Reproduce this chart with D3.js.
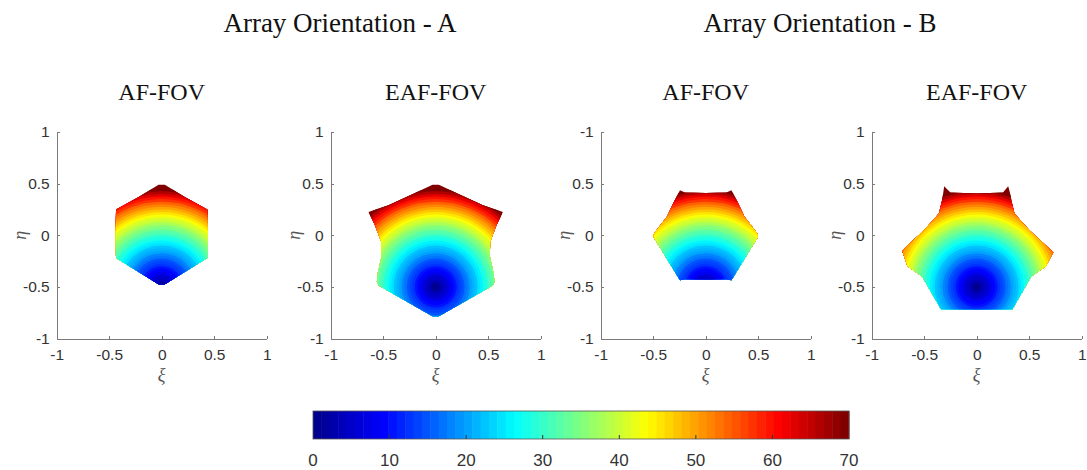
<!DOCTYPE html>
<html>
<style>
    body {
      margin: 0;
      overflow: hidden;
      background: #fff;
    }
    .heading {
      font-family: "Liberation Serif", "Times New Roman", serif;
      fill: #111;
    }
    .axis path, .axis line {
      stroke: #7a7a7a;
      shape-rendering: crispEdges;
    }
    .axis text, .cbar text {
      font-family: "Liberation Sans", Arial, sans-serif;
      fill: #333;
    }
    .varname {
      font-family: "Liberation Serif", "Times New Roman", serif;
      font-style: italic;
      fill: #555;
    }
</style>
<script src="https://cdn.jsdelivr.net/npm/d3@7"></script>
<body>
<svg width="1087" height="470"></svg>
<script>
// ---- data ----
var groupTitles = ["Array Orientation - A", "Array Orientation - B"];
var panelTitles = ["AF-FOV", "EAF-FOV", "AF-FOV", "EAF-FOV"];

var axisTicks = [-1, -0.5, 0, 0.5, 1];
var xTickLabels = ["-1", "-0.5", "0", "0.5", "1"];
var yTickLabels = [
  ["-1", "-0.5", "0", "0.5", "1"],
  ["-1", "-0.5", "0", "0.5", "1"],
  ["-1", "-0.5", "0", "0.5", "-1"],
  ["-1", "-0.5", "0", "0.5", "1"]
];

// field-of-view boundaries in the (xi, eta) plane
var fovA_AF = [[0.03,0.49],[0.22,0.37],[0.435,0.25],[0.44,0.01],[0.435,-0.22],[0.22,-0.355],[0.03,-0.475],
  [-0.03,-0.475],[-0.22,-0.355],[-0.435,-0.22],[-0.44,0.01],[-0.435,0.25],[-0.22,0.37],[-0.03,0.49]];
var fovA_EAF = [[0.03,0.49],[0.3,0.36],[0.45,0.29],[0.64,0.225],[0.58,0.1],[0.52,-0.06],[0.515,-0.2],[0.55,-0.36],
  [0.56,-0.45],[0.54,-0.49],[0.03,-0.785],[-0.03,-0.785],[-0.54,-0.49],[-0.56,-0.45],[-0.55,-0.36],[-0.515,-0.2],
  [-0.52,-0.06],[-0.58,0.1],[-0.64,0.225],[-0.45,0.29],[-0.3,0.36],[-0.03,0.49]];
var fovB_AF = [[0,0.41],[0.2,0.415],[0.245,0.435],[0.3,0.33],[0.37,0.18],[0.46,0.06],[0.496,0.01],[0.496,-0.02],
  [0.4,-0.18],[0.245,-0.435],[0.2,-0.425],[-0.2,-0.425],[-0.245,-0.435],[-0.4,-0.18],[-0.496,-0.02],[-0.496,0.01],
  [-0.46,0.06],[-0.37,0.18],[-0.3,0.33],[-0.245,0.435],[-0.2,0.415]];
var fovB_EAF = [[0,0.405],[0.25,0.415],[0.3,0.475],[0.32,0.4],[0.33,0.34],[0.36,0.21],[0.5,0.05],[0.66,-0.1],
  [0.73,-0.165],[0.66,-0.3],[0.52,-0.4],[0.34,-0.716],[-0.34,-0.716],[-0.52,-0.4],[-0.66,-0.3],[-0.71,-0.15],
  [-0.66,-0.1],[-0.5,0.05],[-0.36,0.21],[-0.33,0.34],[-0.32,0.4],[-0.31,0.475],[-0.25,0.415]];
var fovOutlines = [fovA_AF, fovA_EAF, fovB_AF, fovB_EAF];

// scan angle (deg) around the broadside point, by distance in the uv plane
var beamCentre = [0, -0.5];
var ringRadius = [0.025,0.05,0.075,0.1,0.125,0.15,0.175,0.2,0.225,0.25,0.275,0.3,0.325,0.35,0.375,0.4,
  0.425,0.45,0.475,0.5,0.525,0.55,0.575,0.6,0.625,0.65,0.675,0.7,0.725,0.75,0.775,0.8,0.825,0.85,0.875,
  0.9,0.925,0.95,1.3];
var ringAngle = [0.72,2.15,3.58,5.02,6.46,7.9,9.35,10.81,12.27,13.74,15.22,16.71,18.21,19.72,21.25,22.8,
  24.36,25.94,27.55,29.18,30.83,32.52,34.23,35.98,37.77,39.61,41.49,43.43,45.44,47.52,49.69,51.95,54.34,
  56.88,59.6,62.56,65.86,69.64,75];

var colorTicks = [0, 10, 20, 30, 40, 50, 60, 70];

// ---- layout ----
var panelLeft = [56.7, 330.7, 600.7, 871.7],
    panelWidth = 210,
    plotTop = 132,
    plotBottom = 338.5;

var svg = d3.select("svg");

// MATLAB style jet, 64 levels
var jet = d3.scaleLinear()
    .domain([0, 1/8, 3/8, 5/8, 7/8, 1])
    .range(["#00008f", "#0000ff", "#00ffff", "#ffff00", "#ff0000", "#800000"])
    .clamp(true);
var jetLevels = d3.range(64).map(function(i) {return jet(i / 63)});
var colour = d3.scaleQuantize().domain([0, 70]).range(jetLevels);

svg.selectAll("text.group")
    .data(groupTitles)
  .enter().append("text")
    .attr("class", "heading group")
    .attr("x", function(d, i) {return [340, 820][i]})
    .attr("y", 32)
    .attr("text-anchor", "middle")
    .style("font-size", "27px")
    .text(function(d) {return d});

var defs = svg.append("defs");

panelTitles.forEach(function(title, p) {
  var x = d3.scaleLinear().domain([-1, 1]).range([panelLeft[p], panelLeft[p] + panelWidth]),
      y = d3.scaleLinear().domain([-1, 1]).range([plotBottom, plotTop]);

  var g = svg.append("g").attr("class", "panel");

  g.append("text")
      .attr("class", "heading")
      .attr("x", x(0))
      .attr("y", 100)
      .attr("text-anchor", "middle")
      .style("font-size", "24px")
      .text(title);

  defs.append("clipPath")
      .attr("id", "fov" + p)
    .append("polygon")
      .attr("points", fovOutlines[p].map(function(d) {return x(d[0]) + "," + y(d[1])}).join(" "));

  // concentric rings of constant scan angle, outermost first
  var rings = ringRadius.map(function(r, i) {return {r: r, v: ringAngle[i]}}).reverse();

  g.append("g")
      .attr("clip-path", "url(#fov" + p + ")")
    .selectAll("ellipse")
      .data(rings)
    .enter().append("ellipse")
      .attr("cx", x(beamCentre[0]))
      .attr("cy", y(beamCentre[1]))
      .attr("rx", function(d) {return x(d.r) - x(0)})
      .attr("ry", function(d) {return y(0) - y(d.r)})
      .style("fill", function(d) {return colour(d.v)});

  g.append("g")
      .attr("class", "axis")
      .attr("transform", "translate(0," + plotBottom + ")")
      .call(d3.axisBottom(x)
        .tickValues(axisTicks)
        .tickSizeInner(-3)
        .tickSizeOuter(0)
        .tickPadding(10)
        .tickFormat(function(d, i) {return xTickLabels[i]}))
      .selectAll("text").style("font-size", "15.5px");

  g.append("g")
      .attr("class", "axis")
      .attr("transform", "translate(" + panelLeft[p] + ",0)")
      .call(d3.axisLeft(y)
        .tickValues(axisTicks)
        .tickSizeInner(-3)
        .tickSizeOuter(0)
        .tickPadding(7)
        .tickFormat(function(d, i) {return yTickLabels[p][i]}))
      .selectAll("text").style("font-size", "15.5px");

  g.append("text")
      .attr("class", "varname")
      .attr("x", x(0))
      .attr("y", 381)
      .attr("text-anchor", "middle")
      .style("font-size", "18px")
      .text("ξ");

  g.append("text")
      .attr("class", "varname")
      .attr("transform", "translate(" + (panelLeft[p] - 37) + "," + y(0) + ") rotate(-90)")
      .attr("dy", "0.35em")
      .attr("text-anchor", "middle")
      .style("font-size", "18px")
      .text("η");
});

// ---- colorbar ----
var cx = d3.scaleLinear().domain([0, 70]).range([313, 849]),
    barTop = 411,
    barHeight = 28;

var cbar = svg.append("g").attr("class", "cbar");

cbar.selectAll("rect.level")
    .data(jetLevels)
  .enter().append("rect")
    .attr("class", "level")
    .attr("x", function(d, i) {return cx(i * 70 / 64)})
    .attr("width", cx(70 / 64) - cx(0) + 0.5)
    .attr("y", barTop)
    .attr("height", barHeight)
    .style("fill", function(d) {return d});

cbar.append("rect")
    .attr("x", cx(0))
    .attr("y", barTop)
    .attr("width", cx(70) - cx(0))
    .attr("height", barHeight)
    .style("fill", "none")
    .style("stroke", "#555")
    .style("stroke-width", 0.8);

cbar.selectAll("line.tick")
    .data(colorTicks.slice(1, -1))
  .enter().append("line")
    .attr("class", "tick")
    .attr("x1", cx).attr("x2", cx)
    .attr("y1", barTop + barHeight - 4)
    .attr("y2", barTop + barHeight)
    .style("stroke", "#333");

cbar.selectAll("text")
    .data(colorTicks)
  .enter().append("text")
    .attr("x", cx)
    .attr("y", 466)
    .attr("text-anchor", "middle")
    .style("font-size", "17px")
    .text(function(d) {return d});
</script>
</body>
</html>
